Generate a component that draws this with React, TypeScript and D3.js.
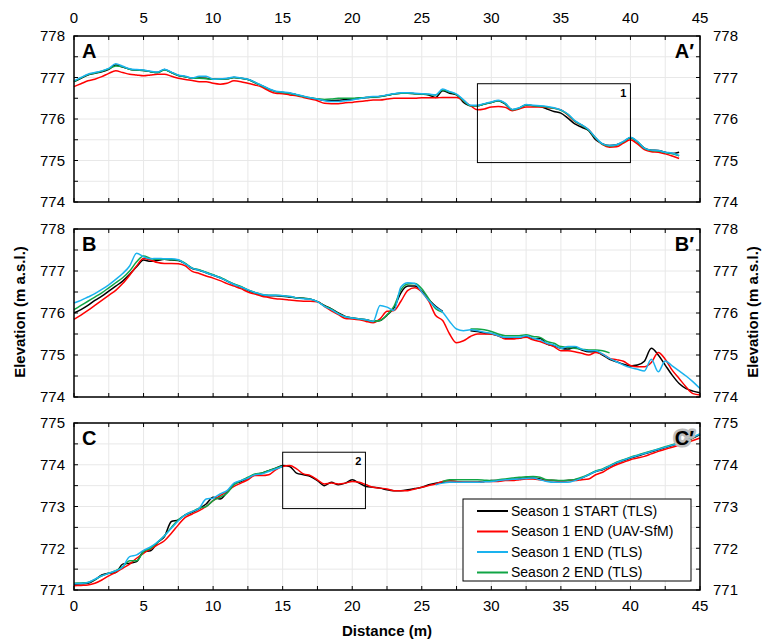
import React from 'react';
import * as d3 from 'd3';

// distance along each profile (m)
const distance = [
  0, 0.5, 1, 1.5, 2, 2.5, 3, 3.5, 4, 4.5,
  5, 5.5, 6, 6.5, 7, 7.5, 8, 8.5, 9, 9.5,
  10, 10.5, 11, 11.5, 12, 12.5, 13, 13.5, 14, 14.5,
  15, 15.5, 16, 16.5, 17, 17.5, 18, 18.5, 19, 19.5,
  20, 20.5, 21, 21.5, 22, 22.5, 23, 23.5, 24, 24.5,
  25, 25.5, 26, 26.5, 27, 27.5, 28, 28.5, 29, 29.5,
  30, 30.5, 31, 31.5, 32, 32.5, 33, 33.5, 34, 34.5,
  35, 35.5, 36, 36.5, 37, 37.5, 38, 38.5, 39, 39.5,
  40, 40.5, 41, 41.5, 42, 42.5, 43, 43.5, 44, 44.5,
  45,
];

const seriesNames = ['Season 1 START (TLS)', 'Season 1 END (UAV-SfM)', 'Season 1 END (TLS)', 'Season 2 END (TLS)'];
const seriesColors = ['#000000', '#ff0000', '#1ab2ee', '#10a545'];
// drawing order: black, red, green, then blue on top
const drawOrder = [0, 1, 3, 2];

// ---- profile A-A' (0 - 43.5 m)
const aStart = [
  776.90, 776.98, 777.06, 777.10, 777.14, 777.20, 777.30, 777.25, 777.20, 777.18,
  777.17, 777.14, 777.12, 777.19, 777.12, 777.05, 777.02, 776.98, 776.99, 776.98,
  776.96, 776.96, 776.97, 777.00, 776.98, 776.95, 776.88, 776.80, 776.72, 776.66,
  776.64, 776.62, 776.58, 776.54, 776.50, 776.48, 776.45, 776.44, 776.45, 776.47,
  776.48, 776.50, 776.52, 776.53, 776.54, 776.57, 776.60, 776.62, 776.62, 776.61,
  776.60, 776.58, 776.52, 776.68, 776.62, 776.58, 776.40, 776.32, 776.32, 776.36,
  776.40, 776.44, 776.36, 776.22, 776.26, 776.34, 776.32, 776.30, 776.24, 776.18,
  776.14, 776.02, 775.88, 775.80, 775.72, 775.50, 775.40, 775.36, 775.38, 775.45,
  775.55, 775.45, 775.30, 775.25, 775.24, 775.20, 775.17, 775.20,
];
const aEndUav = [
  776.78, 776.85, 776.92, 776.96, 777.02, 777.10, 777.16, 777.12, 777.08, 777.06,
  777.04, 777.06, 777.08, 777.08, 777.03, 776.98, 776.95, 776.93, 776.90, 776.90,
  776.86, 776.84, 776.86, 776.92, 776.90, 776.86, 776.82, 776.77, 776.68, 776.62,
  776.61, 776.58, 776.56, 776.52, 776.48, 776.44, 776.38, 776.37, 776.37, 776.39,
  776.40, 776.42, 776.44, 776.46, 776.46, 776.48, 776.50, 776.50, 776.50, 776.50,
  776.51, 776.51, 776.51, 776.52, 776.52, 776.52, 776.44, 776.32, 776.22, 776.24,
  776.29, 776.30, 776.28, 776.20, 776.24, 776.29, 776.29, 776.29, 776.28, 776.26,
  776.22, 776.10, 775.94, 775.85, 775.74, 775.54, 775.38, 775.32, 775.33, 775.42,
  775.50, 775.40, 775.26, 775.21, 775.20, 775.16, 775.11, 775.05,
];
const aEndTls = [
  776.92, 777.00, 777.08, 777.12, 777.16, 777.22, 777.33, 777.27, 777.21, 777.19,
  777.18, 777.15, 777.13, 777.20, 777.13, 777.06, 777.03, 776.99, 777.03, 777.03,
  776.96, 776.97, 776.98, 777.01, 776.99, 776.96, 776.89, 776.81, 776.73, 776.67,
  776.65, 776.63, 776.59, 776.55, 776.51, 776.48, 776.44, 776.42, 776.42, 776.44,
  776.46, 776.49, 776.52, 776.54, 776.55, 776.58, 776.61, 776.63, 776.63, 776.62,
  776.61, 776.60, 776.58, 776.72, 776.66, 776.60, 776.46, 776.33, 776.33, 776.37,
  776.41, 776.45, 776.38, 776.23, 776.27, 776.35, 776.33, 776.32, 776.30, 776.27,
  776.22, 776.12, 775.96, 775.86, 775.74, 775.55, 775.40, 775.36, 775.38, 775.46,
  775.56, 775.46, 775.30, 775.25, 775.24, 775.20, 775.18, 775.12,
];
const aSeason2 = [
  776.90, 776.99, 777.07, 777.11, 777.15, 777.21, 777.28, 777.26, 777.20, 777.18,
  777.17, 777.14, 777.12, 777.18, 777.12, 777.05, 777.02, 776.98, 776.98, 776.97,
  776.96, 776.96, 776.97, 777.00, 776.98, 776.95, 776.88, 776.80, 776.72, 776.66,
  776.64, 776.62, 776.58, 776.54, 776.51, 776.49, 776.47, 776.48, 776.50, 776.50,
  776.50, 776.51, 776.52, 776.53, 776.54, 776.57, 776.60, 776.62, 776.62, 776.61,
  776.60, 776.59, 776.58, 776.70, 776.65, 776.59, 776.44, 776.32, 776.32, 776.36,
  776.40, 776.44, 776.37, 776.22, 776.26, 776.34, 776.32, 776.31, 776.29, 776.26,
  776.21, 776.11, 775.95, 775.85, 775.73, 775.54, 775.39, 775.35, 775.37, 775.45,
  775.55, 775.45, 775.29, 775.24, 775.23, 775.19, 775.17, 775.11,
];

// ---- profile B-B'
const bStart = [
  776.00, 776.08, 776.18, 776.30, 776.40, 776.52, 776.64, 776.76, 776.92, 777.10,
  777.26, 777.23, 777.25, 777.28, 777.26, 777.25, 777.17, 777.06, 777.02, 776.96,
  776.90, 776.84, 776.76, 776.68, 776.62, 776.54, 776.48, 776.43, 776.41, 776.41,
  776.40, 776.38, 776.36, 776.35, 776.33, 776.27, 776.18, 776.10, 776.00, 775.92,
  775.88, 775.86, 775.84, 775.80, 775.82, 775.95, 776.12, 776.48, 776.64, 776.64,
  776.52, 776.32, 776.16, 776.04, null, null, null, 775.58, 775.56, 775.52,
  775.50, 775.46, 775.40, 775.40, 775.40, 775.44, 775.38, 775.40, 775.26, 775.22,
  775.16, 775.14, 775.18, 775.12, 775.08, 775.08, 775.00, 774.90, 774.84, 774.78,
  774.74, 774.76, 774.85, 775.16, 775.00, 774.76, 774.52, 774.32, 774.20, 774.14,
  774.10,
];
const bEndUav = [
  775.85, 775.95, 776.06, 776.18, 776.30, 776.42, 776.54, 776.70, 776.90, 777.12,
  777.30, 777.26, 777.20, 777.18, 777.18, 777.17, 777.12, 776.99, 776.94, 776.88,
  776.83, 776.77, 776.70, 776.64, 776.58, 776.50, 776.45, 776.40, 776.37, 776.34,
  776.33, 776.31, 776.29, 776.28, 776.28, 776.27, 776.16, 776.05, 775.96, 775.87,
  775.86, 775.84, 775.80, 775.77, 775.86, 776.04, 776.06, 776.28, 776.54, 776.60,
  776.50, 776.28, 775.94, 775.82, 775.50, 775.29, 775.34, 775.44, 775.50, 775.50,
  775.50, 775.46, 775.38, 775.38, 775.40, 775.42, 775.36, 775.32, 775.26, 775.20,
  775.10, 775.10, 775.08, 775.04, 775.00, 775.06, 775.02, 774.92, 774.89, 774.85,
  774.75, 774.72, 774.72, 774.82, 775.06, 774.90, 774.64, 774.44, 774.24, 774.08,
  774.05,
];
const bEndTls = [
  776.24, 776.30, 776.38, 776.46, 776.56, 776.67, 776.80, 776.94, 777.12, 777.42,
  777.34, 777.29, 777.30, 777.29, 777.29, 777.27, 777.17, 777.07, 777.02, 776.96,
  776.90, 776.84, 776.76, 776.68, 776.62, 776.55, 776.49, 776.44, 776.42, 776.42,
  776.41, 776.40, 776.36, 776.34, 776.33, 776.27, 776.16, 776.08, 775.98, 775.91,
  775.88, 775.86, 775.84, 775.80, 776.18, 776.14, 776.06, 776.62, 776.72, 776.70,
  776.50, 776.30, 776.14, 776.02, 775.80, 775.62, 775.58, 775.60, 775.58, 775.54,
  775.52, 775.46, 775.42, 775.42, 775.42, 775.46, 775.40, 775.36, 775.28, 775.24,
  775.16, 775.20, 775.20, 775.14, 775.10, 775.10, 775.02, 774.92, 774.84, 774.76,
  774.70, 774.66, 774.62, 774.90, 774.60, 774.86, 774.74, 774.62, 774.50, 774.36,
  774.20,
];
const bSeason2 = [
  776.08, 776.18, 776.28, 776.38, 776.48, 776.60, 776.72, 776.84, 777.00, 777.22,
  777.36, 777.30, 777.28, 777.28, 777.27, 777.26, 777.18, 777.07, 777.03, 776.97,
  776.91, 776.85, 776.77, 776.69, 776.63, 776.55, 776.49, 776.44, 776.42, 776.42,
  776.41, 776.39, 776.36, 776.35, 776.33, 776.27, 776.17, 776.09, 775.99, 775.91,
  775.88, 775.86, 775.84, 775.80, 775.82, 775.95, 776.16, 776.55, 776.69, 776.70,
  776.58, 776.34, 776.10, 776.02, null, null, null, 775.62, 775.62, 775.60,
  775.56, 775.50, 775.46, 775.46, 775.46, 775.48, 775.44, 775.42, 775.32, 775.28,
  775.20, 775.18, 775.16, 775.14, 775.12, 775.12, 775.10, 775.05, null, null,
  null, null, null, null, null, null, null, null, null, null,
  null,
];

// ---- profile C-C'
const cStart = [
  771.14, 771.15, 771.16, 771.24, 771.36, 771.40, 771.42, 771.62, 771.64, 771.68,
  771.92, 771.94, 772.14, 772.28, 772.64, 772.68, 772.80, 772.86, 772.95, 773.06,
  773.22, 773.18, 773.34, 773.54, 773.60, 773.68, 773.76, 773.80, 773.86, 773.92,
  773.98, 773.96, 773.80, 773.76, 773.72, 773.62, 773.50, 773.58, 773.52, 773.56,
  773.64, 773.56, 773.48, 773.46, 773.44, 773.40, 773.38, 773.38, 773.40, 773.43,
  773.46, 773.52, 773.56, 773.58, 773.58, 773.58, 773.58, 773.58, 773.58, 773.60,
  773.62, 773.62, 773.64, 773.65, 773.66, 773.68, 773.68, 773.66, 773.62, 773.62,
  773.61, 773.62, 773.64, 773.68, 773.76, 773.84, 773.88, 773.96, 774.04, 774.10,
  774.16, 774.21, 774.26, 774.31, 774.36, 774.41, 774.46, 774.51, 774.56, 774.64,
  774.72,
];
const cEndUav = [
  771.10, 771.11, 771.12, 771.16, 771.24, 771.34, 771.42, 771.52, 771.62, 771.76,
  771.88, 771.98, 772.08, 772.18, 772.36, 772.56, 772.74, 772.82, 772.90, 773.00,
  773.14, 773.26, 773.36, 773.48, 773.56, 773.64, 773.74, 773.74, 773.76, 773.88,
  773.96, 773.98, 773.90, 773.78, 773.74, 773.64, 773.54, 773.56, 773.54, 773.56,
  773.60, 773.58, 773.52, 773.46, 773.44, 773.42, 773.38, 773.38, 773.38, 773.42,
  773.46, 773.50, 773.54, 773.60, 773.62, 773.60, 773.58, 773.58, 773.58, 773.60,
  773.60, 773.60, 773.62, 773.62, 773.64, 773.66, 773.66, 773.64, 773.62, 773.62,
  773.60, 773.62, 773.62, 773.64, 773.66, 773.76, 773.82, 773.92, 774.00, 774.06,
  774.12, 774.16, 774.20, 774.26, 774.32, 774.37, 774.42, 774.47, 774.52, 774.58,
  774.64,
];
const cEndTls = [
  771.15, 771.16, 771.18, 771.26, 771.34, 771.40, 771.46, 771.55, 771.80, 771.84,
  771.95, 772.03, 772.15, 772.30, 772.48, 772.66, 772.80, 772.88, 772.96, 773.18,
  773.20, 773.30, 773.38, 773.56, 773.62, 773.68, 773.76, 773.78, 773.84, 773.90,
  773.96, null, null, null, null, null, null, null, null, null,
  null, null, null, null, null, null, null, null, null, null,
  null, null, 773.52, 773.56, 773.58, 773.58, 773.58, 773.58, 773.58, 773.59,
  773.60, 773.62, 773.64, 773.65, 773.66, 773.67, 773.68, 773.64, 773.60, 773.58,
  773.58, 773.58, 773.62, 773.68, 773.76, 773.84, 773.89, 773.97, 774.05, 774.11,
  774.17, 774.22, 774.27, 774.32, 774.37, 774.42, 774.47, 774.52, 774.58, 774.66,
  774.74,
];
const cSeason2 = [
  771.16, 771.17, 771.18, 771.25, 771.34, 771.40, 771.46, 771.56, 771.70, 771.70,
  771.92, 772.00, 772.14, 772.30, 772.50, 772.68, 772.80, 772.88, 772.96, 773.00,
  773.14, 773.22, 773.32, 773.52, 773.62, 773.70, 773.78, 773.80, 773.86, 773.92,
  773.97, null, null, null, null, null, null, null, null, null,
  null, null, null, null, null, null, null, null, null, null,
  null, null, null, 773.60, 773.64, 773.64, 773.64, 773.64, 773.64, 773.63,
  773.62, 773.64, 773.66, 773.68, 773.70, 773.71, 773.72, 773.70, 773.64, 773.63,
  773.62, 773.63, 773.65, 773.70, 773.77, 773.85, 773.90, 773.98, 774.06, 774.12,
  774.18, 774.23, 774.28, 774.33, 774.38, 774.43, 774.48, 774.53, 774.59, 774.66,
  774.74,
];

const xTicks = [0, 5, 10, 15, 20, 25, 30, 35, 40, 45];

const FONT = '"Liberation Sans", Arial, sans-serif';
const width = 762;
const height = 641;
const left = 74;
const right = 700;

const x = d3.scaleLinear().domain([0, 45]).range([left, right]);

const panels = [
  { label: 'A', top: 36, bottom: 202, domain: [774, 778], series: [aStart, aEndUav, aEndTls, aSeason2],
    box: { x0: 29, x1: 40, y0: 774.95, y1: 776.85, n: '1' } },
  { label: 'B', top: 229, bottom: 397, domain: [774, 778], series: [bStart, bEndUav, bEndTls, bSeason2] },
  { label: 'C', top: 423, bottom: 590, domain: [771, 775], series: [cStart, cEndUav, cEndTls, cSeason2],
    box: { x0: 15, x1: 20.95, y0: 772.95, y1: 774.3, n: '2' } },
];

const Panel = ({ p, idx }) => {
  const y = d3.scaleLinear().domain(p.domain).range([p.bottom, p.top]);
  const gridX = d3.range(0, 45.01, 2.5);
  const gridY = d3.range(p.domain[0], p.domain[1] + 0.01, 0.5);
  const yLabels = d3.range(p.domain[0], p.domain[1] + 0.01, 1);
  const line = d3.line()
    .defined((d) => d[1] != null)
    .x((d) => x(d[0]))
    .y((d) => y(d[1]))
    .curve(d3.curveMonotoneX);
  return (
    <g>
      {/* grid */}
      {gridX.map((v) => (
        <line key={'gx' + v} x1={x(v)} x2={x(v)} y1={p.top} y2={p.bottom} stroke="#e8e8e8" strokeWidth={1} />
      ))}
      {gridY.map((v) => (
        <line key={'gy' + v} x1={left} x2={right} y1={y(v)} y2={y(v)} stroke="#e8e8e8" strokeWidth={1} />
      ))}
      {/* ticks (inward) */}
      {gridX.map((v) => (
        <g key={'tx' + v}>
          <line x1={x(v)} x2={x(v)} y1={p.top} y2={p.top + 4} stroke="#000" />
          <line x1={x(v)} x2={x(v)} y1={p.bottom} y2={p.bottom - 4} stroke="#000" />
        </g>
      ))}
      {gridY.map((v) => (
        <g key={'ty' + v}>
          <line x1={left} x2={left + 4} y1={y(v)} y2={y(v)} stroke="#000" />
          <line x1={right} x2={right - 4} y1={y(v)} y2={y(v)} stroke="#000" />
        </g>
      ))}
      {yLabels.map((v) => (
        <g key={'yl' + v} fontFamily={FONT} fontSize={15} fill="#000">
          <text x={left - 9} y={y(v)} dy="0.36em" textAnchor="end">{v}</text>
          <text x={right + 13} y={y(v)} dy="0.36em" textAnchor="start">{v}</text>
        </g>
      ))}
      {/* profiles */}
      {drawOrder.map((i) => (
        <path key={i}
          d={line(p.series[i].map((v, j) => [distance[j], v]))}
          fill="none" stroke={seriesColors[i]} strokeWidth={1.5} strokeLinejoin="round" />
      ))}
      {p.box && (
        <g>
          <rect x={x(p.box.x0)} y={y(p.box.y1)} width={x(p.box.x1) - x(p.box.x0)} height={y(p.box.y0) - y(p.box.y1)}
            fill="none" stroke="#000" strokeWidth={1} />
          <text x={x(p.box.x1) - 4} y={y(p.box.y1) + 13} textAnchor="end" fontFamily={FONT} fontSize={11} fontWeight="bold">{p.box.n}</text>
        </g>
      )}
      {/* frame */}
      <rect x={left} y={p.top} width={right - left} height={p.bottom - p.top} fill="none" stroke="#000" strokeWidth={1.5} />
      <text x={82} y={p.top + 22} fontFamily={FONT} fontSize={20} fontWeight="bold">{p.label}</text>
      {idx === 2 ? (
        <text x={right - 6} y={p.top + 22} textAnchor="end" fontFamily={FONT} fontSize={20} fontWeight="bold"
          stroke="#bdbdbd" strokeWidth={5} paintOrder="stroke" strokeLinejoin="round">{p.label + '\u2032'}</text>
      ) : (
        <text x={right - 6} y={p.top + 22} textAnchor="end" fontFamily={FONT} fontSize={20} fontWeight="bold">{p.label + '\u2032'}</text>
      )}
    </g>
  );
};

const Legend = () => {
  const x0 = 463;
  const y0 = 499;
  return (
    <g fontFamily={FONT} fontSize={14}>
      <rect x={x0} y={y0} width={228} height={82} fill="#fff" stroke="#000" strokeWidth={1} />
      {seriesNames.map((name, i) => (
        <g key={name} transform={`translate(0, ${y0 + 12 + i * 20.5})`}>
          <line x1={477} x2={508} y1={0} y2={0} stroke={seriesColors[i]} strokeWidth={2} />
          <text x={511} y={0} dy="0.35em">{name}</text>
        </g>
      ))}
    </g>
  );
};

export default function App() {
  return (
    <svg width={width} height={height} style={{ position: 'absolute', left: 0, top: 0, background: '#fff' }}>
      <rect width={width} height={height} fill="#fff" />
      {panels.map((p, i) => <Panel key={p.label} p={p} idx={i} />)}
      <Legend />
      {/* top and bottom distance labels */}
      {xTicks.map((t) => (
        <g key={t} fontFamily={FONT} fontSize={15} textAnchor="middle">
          <text x={x(t)} y={23}>{t}</text>
          <text x={x(t)} y={611}>{t}</text>
        </g>
      ))}
      <text x={(left + right) / 2} y={636} textAnchor="middle" fontFamily={FONT} fontSize={15} fontWeight="bold">Distance (m)</text>
      <text transform="translate(25, 312) rotate(-90)" textAnchor="middle" fontFamily={FONT} fontSize={15} fontWeight="bold">Elevation (m a.s.l.)</text>
      <text transform="translate(758, 312) rotate(-90)" textAnchor="middle" fontFamily={FONT} fontSize={15} fontWeight="bold">Elevation (m a.s.l.)</text>
    </svg>
  );
}
